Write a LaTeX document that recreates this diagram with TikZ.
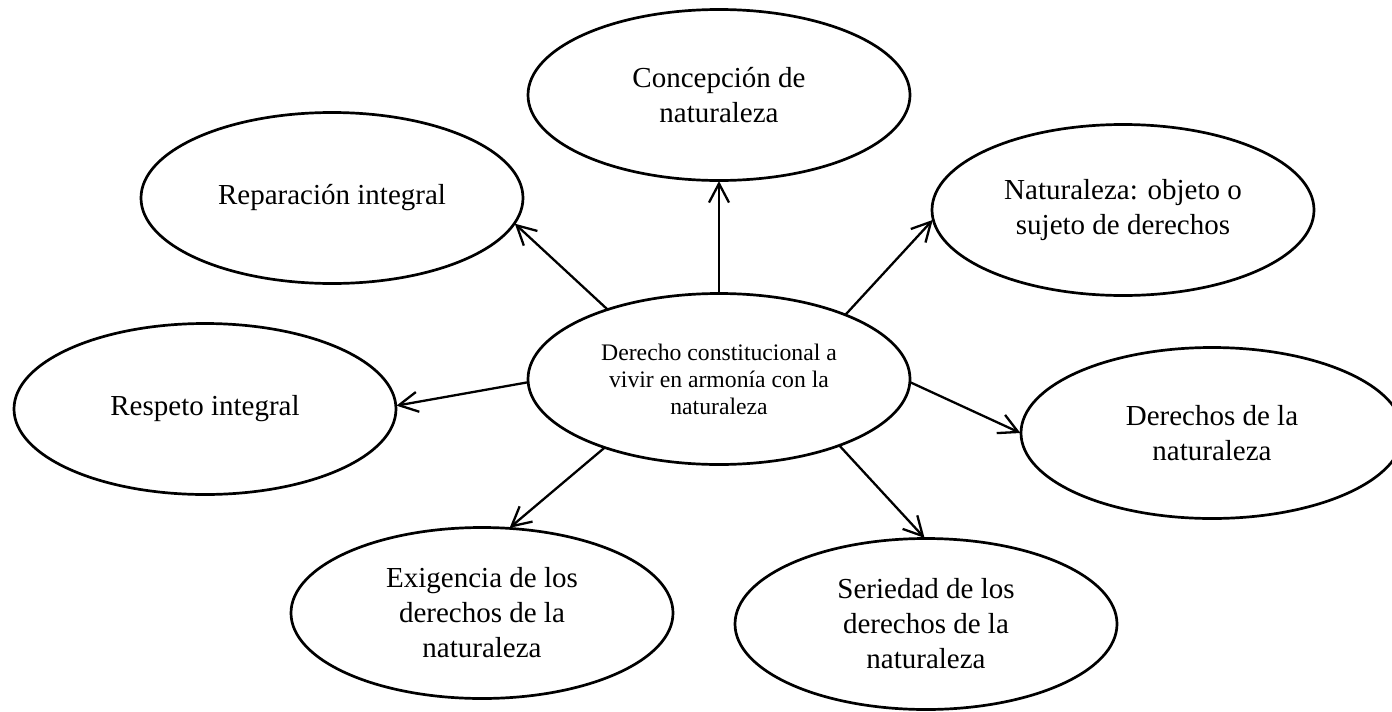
\documentclass[tikz,border=0pt]{standalone}
\usepackage{fontspec}
\setmainfont{Liberation Serif}
\usetikzlibrary{arrows.meta,shapes.geometric}
\begin{document}
\begin{tikzpicture}[x=1pt,y=-1pt,
  bub/.style={draw=black, ellipse, line width=2.7pt, minimum width=382pt, minimum height=171pt,
    inner sep=0pt, outer sep=0.6pt, align=center, font=\fontsize{29}{35}\selectfont},
  hub/.style={bub, font=\fontsize{23.7}{27}\selectfont},
  link/.style={draw=black, line width=2.3pt, -{Straight Barb[length=19pt,width=20pt]}}]
\useasboundingbox (0,0) rectangle (1392,712);
\node[hub] (c) at (719,379) {Derecho constitucional a\\vivir en armonía con la\\naturaleza};
\node[bub] (conc) at (719,95) {Concepción de\\naturaleza};
\node[bub] (rep) at (332,198) {Reparación integral};
\node[bub] (obj) at (1123,210) {Naturaleza: objeto o\\sujeto de derechos};
\node[bub] (resp) at (205,409) {Respeto integral};
\node[bub] (der) at (1212,433) {Derechos de la\\naturaleza};
\node[bub] (exi) at (482,613) {Exigencia de los\\derechos de la\\naturaleza};
\node[bub] (ser) at (926,624) {Seriedad de los\\derechos de la\\naturaleza};
\draw[link] (c.148.5) -- (rep.352);
\draw[link] (c.north) -- (conc.south);
\draw[link] (c.27) -- (obj.183.4);
\draw[link] (c.181) -- (resp.1);
\draw[link] (c.211) -- (exi.72);
\draw[link] (c.359) -- (der.180);
\draw[link] (c.331) -- (ser.91);
\end{tikzpicture}
\end{document}
